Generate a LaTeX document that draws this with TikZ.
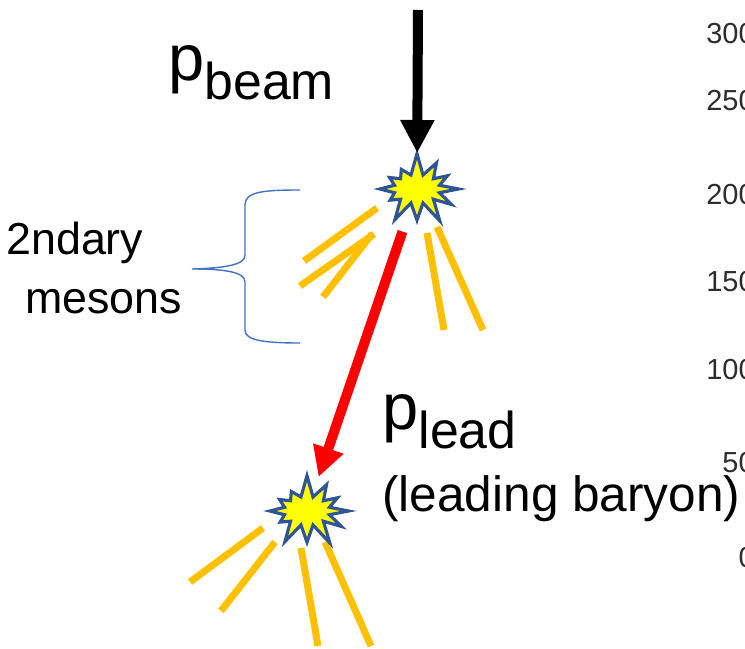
\documentclass[tikz,border=0pt]{standalone}
\usepackage{fontspec}
\setmainfont{Liberation Sans}
\usetikzlibrary{arrows.meta,shapes.symbols}
\definecolor{burstyellow}{RGB}{255,255,0}
\definecolor{burstblue}{RGB}{47,85,151}
\definecolor{debris}{RGB}{255,192,0}
\definecolor{braceblue}{RGB}{68,114,196}
\definecolor{leadred}{RGB}{255,0,0}
\definecolor{axisgrey}{RGB}{45,45,45}
\newcommand{\psub}[1]{{\fontsize{37}{42}\selectfont p}{\fontsize{29.5}{33}\selectfont\raisebox{-0.4cm}{#1}}}

\begin{document}
\begin{tikzpicture}[
    x=0.02cm, y=-0.02cm,
    burst/.style={starburst, starburst points=12, starburst point height=0.46cm, random starburst=7, draw=burstblue, line width=1.8pt, fill=burstyellow, minimum width=1.85cm, minimum height=1.5cm, inner sep=0pt},
    particle/.style={debris, line width=0.14cm},
    beam/.style={-{Triangle[width=0.64cm,length=0.66cm]}, line width=0.2cm, black},
    leadarrow/.style={-{Triangle[width=0.6cm,length=0.6cm]}, line width=0.2cm, leadred},
    tag/.style={inner sep=0pt, anchor=base west},
    tick/.style={inner sep=0pt, anchor=east, font=\fontsize{16.5}{19}\selectfont, text=axisgrey}
]
\useasboundingbox (0,0) rectangle (745,649);
\clip (0,0) rectangle (745,649);

% cut-off axis numbers on the right edge
\foreach \v/\y in {300/34, 250/101, 200/195, 150/282, 100/370, 50/463, 0/558}
    \node[tick] (tick\v) at (755,\y) {\v};

% secondary particles
\foreach \xa/\ya/\xb/\yb in {377/208/304/261, 374/234/300/286, 372/234/323/297, 427/233/444/330, 437/227/483/330,
                             263/528/190/582, 275/542/221/611, 301/548/318/646, 325/542/371/646}
    \draw[particle] (\xa,\ya) -- (\xb,\yb);

% collisions
\node[burst] (hitA) at (417,189) {};
\node[burst] (hitB) at (307,511) {};

% incoming and leading protons
\coordinate (beamtop) at (418,10);
\draw[beam, shorten >=0.72cm] (beamtop) -- (hitA.center);
\draw[leadarrow, shorten <=0.9cm, shorten >=0.72cm] (hitA.center) -- (hitB.center);

% labels
\node[tag] (pbeam) at (168,80) {\psub{beam}};
\node[tag] (plead) at (382,429) {\psub{lead}};
\node[tag, font=\fontsize{28.2}{32}\selectfont] (baryon) at (382,511) {(leading baryon)};
\node[inner sep=0pt, anchor=west, align=left, font=\fontsize{25.5}{34}\selectfont] (mesons) at (6,268) {2ndary\\\hspace*{0.38cm}mesons};

% brace round the mesons
\draw[braceblue, line width=0.8pt] (300,190) .. controls (262,190) and (245,192) .. (245,205) -- (245,255)
    .. controls (245,265) and (225,268) .. (192,269) .. controls (225,269) and (245,272) .. (245,282) -- (245,330)
    .. controls (245,340) and (262,343) .. (300,343);

\end{tikzpicture}
\end{document}
